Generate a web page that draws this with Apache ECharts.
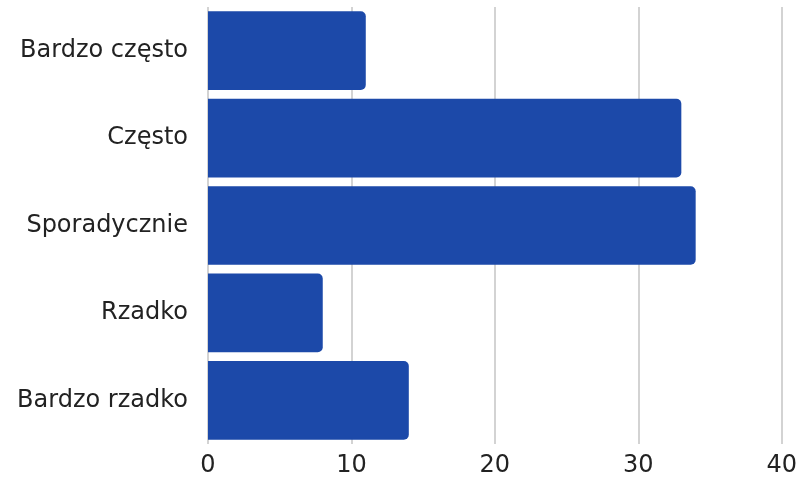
<!DOCTYPE html>
<html>
<head>
<meta charset="utf-8">
<script src="https://cdn.jsdelivr.net/npm/echarts@6/dist/echarts.min.js"></script>
<style>
  html, body { margin: 0; padding: 0; background: #fff; }
  #chart { width: 800px; height: 479px; }
</style>
</head>
<body>
<div id="chart"></div>
<script>
  // odpowiedzi od góry do dołu
  var categories = ['Bardzo często', 'Często', 'Sporadycznie', 'Rzadko', 'Bardzo rzadko'];
  var values = [11, 33, 34, 8, 14];

  var chart = echarts.init(document.getElementById('chart'));
  chart.setOption({
    animation: false,
    grid: { left: 208, right: 18, top: 7, bottom: 35 },
    xAxis: {
      type: 'value',
      min: 0, max: 40, interval: 10,
      axisLine: { show: false },
      axisTick: { show: false },
      axisLabel: { fontFamily: 'DejaVu Sans', fontSize: 24, color: '#222', margin: 10 },
      splitLine: { lineStyle: { color: '#c4c4c4', width: 1.5 } }
    },
    yAxis: {
      type: 'category',
      inverse: true,
      data: categories,
      axisLine: { show: false },
      axisTick: { show: false },
      axisLabel: { fontFamily: 'DejaVu Sans', fontSize: 24, color: '#222', margin: 20 }
    },
    series: [{
      type: 'bar',
      data: values,
      barCategoryGap: '10%',
      itemStyle: { color: '#1c49a9', borderRadius: [0, 5, 5, 0] }
    }]
  });
</script>
</body>
</html>
